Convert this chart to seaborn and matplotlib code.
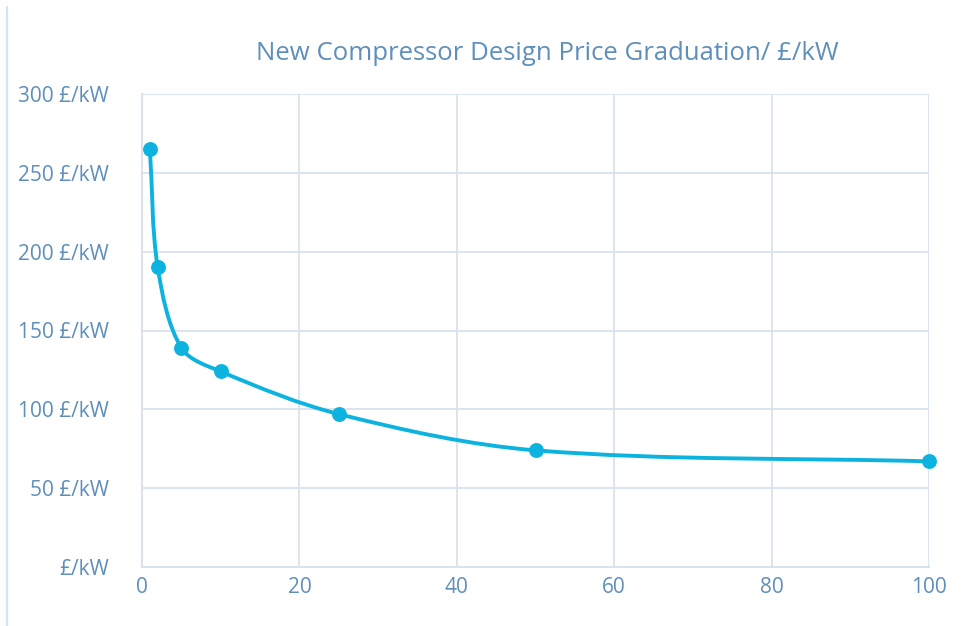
import matplotlib
matplotlib.use("Agg")
import math
import matplotlib.pyplot as plt
import seaborn as sns
import pandas as pd
from matplotlib.path import Path
from matplotlib.patches import PathPatch
from matplotlib.lines import Line2D

# Compressor size (kW) and design price per kW
capacity_kw = [1, 2, 5, 10, 25, 50, 100]
price_per_kw = [265, 190, 139, 124, 97, 74, 67]

y_ticks = [0, 50, 100, 150, 200, 250, 300]
y_tick_labels = ["£/kW", "50 £/kW", "100 £/kW", "150 £/kW", "200 £/kW", "250 £/kW", "300 £/kW"]
x_ticks = [0, 20, 40, 60, 80, 100]
title = "New Compressor Design Price Graduation/ £/kW"

LINE = "#0DB3DF"
TEXT = "#5E8FBA"
GRID = "#D9E3EE"

sns.set_theme(style="white")
plt.rcParams["font.family"] = ["Open Sans", "DejaVu Sans"]

df = pd.DataFrame({"capacity": capacity_kw, "price": price_per_kw})

fig = plt.figure(figsize=(9.63, 6.26), dpi=100)
ax = fig.add_axes([142 / 963, 1 - 567 / 626, (929 - 142) / 963, (567 - 94) / 626])
ax.set_xlim(0, 100)
ax.set_ylim(0, 300)
fig.canvas.draw()

# Smoothed connecting line: cubic Bezier segments with tangents weighted
# by the on-screen length of neighbouring segments
pts = list(zip(df["capacity"], df["price"]))
disp = ax.transData.transform(pts)
n = len(pts)


def seglen(a, b):
    return math.hypot(disp[b][0] - disp[a][0], disp[b][1] - disp[a][1])


def tangent(i):
    a = max(i - 1, 0)
    b = min(i + 1, n - 1)
    return (pts[b][0] - pts[a][0], pts[b][1] - pts[a][1])


verts = [pts[0]]
codes = [Path.MOVETO]
for i in range(n - 1):
    d = seglen(i, i + 1)
    d_prev = seglen(i - 1, i) if i > 0 else d
    d_next = seglen(i + 1, i + 2) if i + 2 < n else d
    m1 = tangent(i)
    m2 = tangent(i + 1)
    k1 = d / (3 * (d_prev + d)) if i > 0 else 1 / 3
    k2 = d / (3 * (d + d_next)) if i + 2 < n else 1 / 3
    if i == 0:
        m1 = (pts[1][0] - pts[0][0], pts[1][1] - pts[0][1])
    if i + 2 >= n:
        m2 = (pts[n - 1][0] - pts[n - 2][0], pts[n - 1][1] - pts[n - 2][1])
    c1 = (pts[i][0] + m1[0] * k1, pts[i][1] + m1[1] * k1)
    c2 = (pts[i + 1][0] - m2[0] * k2, pts[i + 1][1] - m2[1] * k2)
    verts += [c1, c2, pts[i + 1]]
    codes += [Path.CURVE4] * 3
ax.add_patch(PathPatch(Path(verts, codes), facecolor="none", edgecolor=LINE,
                       linewidth=2.8, capstyle="round", joinstyle="round", zorder=3))

sns.scatterplot(data=df, x="capacity", y="price", ax=ax, color=LINE, s=115,
                edgecolor=LINE, linewidth=0, zorder=4, clip_on=False)

ax.set_xlim(0, 100)
ax.set_ylim(0, 300)
ax.set_xticks(x_ticks)
ax.set_xticklabels([str(t) for t in x_ticks])
ax.set_yticks(y_ticks)
ax.set_yticklabels(y_tick_labels)
ax.set_xlabel("")
ax.set_ylabel("")

ax.grid(True, color=GRID, linewidth=1.3)
ax.set_axisbelow(True)
for side in ["top", "right"]:
    ax.spines[side].set_visible(False)
for side in ["left", "bottom"]:
    ax.spines[side].set_color(GRID)
    ax.spines[side].set_linewidth(1.5)

ax.tick_params(axis="y", colors=TEXT, labelsize=15, length=0, pad=24)
ax.tick_params(axis="x", colors=TEXT, labelsize=15, length=0, pad=7)

fig.text(547 / 963, 1 - 54 / 626, title, color=TEXT, fontsize=18.5,
         ha="center", va="center")

# Thin frame line on the left edge of the chart area
fig.add_artist(Line2D([7 / 963, 7 / 963], [0, 1 - 7 / 626], color=GRID, linewidth=1.6))

fig.savefig("out.png", dpi=100, facecolor="white")
